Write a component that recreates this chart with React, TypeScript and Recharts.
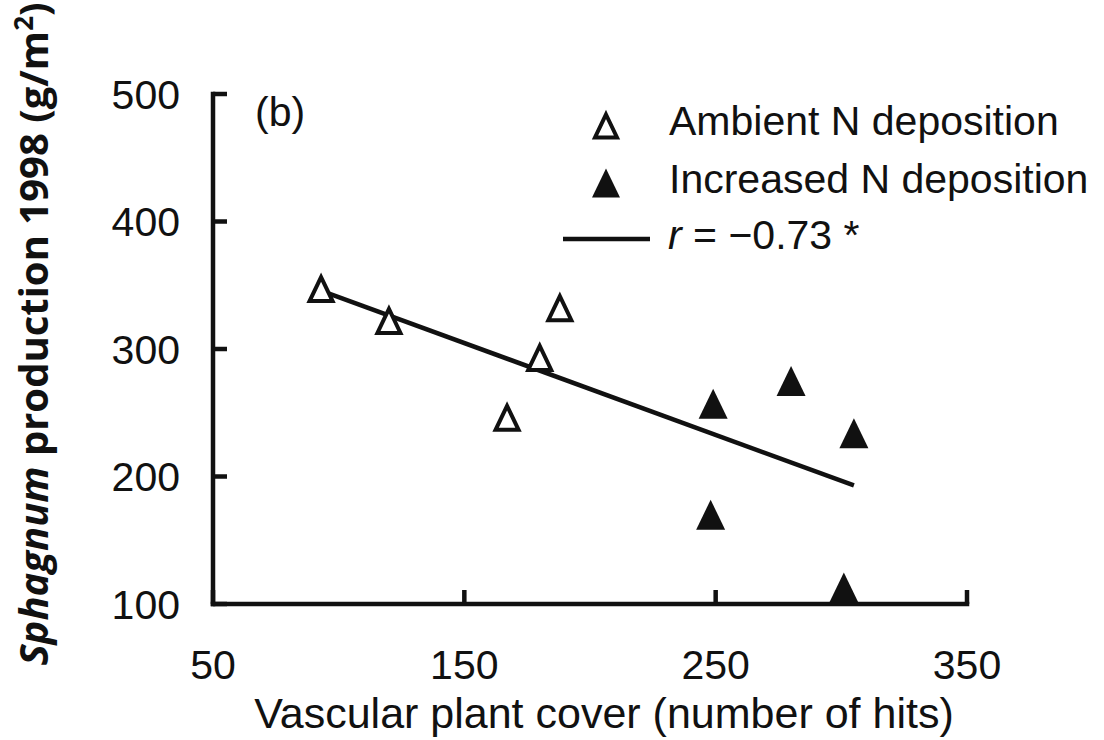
import { ScatterChart, Scatter, XAxis, YAxis, Customized } from 'recharts';

// Vascular plant cover (number of hits) vs Sphagnum production 1998 (g/m2)
const ambientCover = [93, 120, 188, 180, 167];
const ambientProd = [347, 322, 332, 293, 246];
const increasedCover = [249, 280, 305, 248, 301];
const increasedProd = [257, 275, 234, 170, 113];
const fitCover = [94, 305];
const fitProd = [345, 193];

const xTicks = [50, 150, 250, 350];
const yTicks = [100, 200, 300, 400, 500];
const seriesNames = ['Ambient N deposition', 'Increased N deposition'];
const rText = ' = −0.73 *';
const panelTag = '(b)';

const ambientData = ambientCover.map((x, i) => ({ x, y: ambientProd[i] }));
const increasedData = increasedCover.map((x, i) => ({ x, y: increasedProd[i] }));
const fitData = fitCover.map((x, i) => ({ x, y: fitProd[i] }));

const INK = '#111';
const FONT = '"Liberation Sans", Arial, sans-serif';
const STROKE = 4.5;

function tri(cx: number, cy: number, hw: number, hh: number) {
  return `M${cx},${cy - hh} L${cx + hw},${cy + hh} L${cx - hw},${cy + hh} Z`;
}

// eslint-disable-next-line @typescript-eslint/no-explicit-any
function OpenTriangle({ cx, cy }: any) {
  return <path d={tri(cx, cy, 11.5, 12)} fill="#fff" stroke={INK} strokeWidth={4} />;
}

// eslint-disable-next-line @typescript-eslint/no-explicit-any
function FilledTriangle({ cx, cy }: any) {
  return <path d={tri(cx, cy, 14.5, 15)} fill={INK} stroke="none" />;
}

function NoDot() {
  return <g />;
}

// eslint-disable-next-line @typescript-eslint/no-explicit-any
function YTitle({ viewBox }: any) {
  const x = viewBox.x - 65;
  const y = viewBox.y + viewBox.height / 2 - 15;
  return (
    <text
      x={x}
      y={y}
      transform={`rotate(-90, ${x}, ${y})`}
      textAnchor="middle"
      fontFamily='"Open Sans", sans-serif'
      fontWeight={700}
      fontSize={40}
      fill={INK}
    >
      <tspan fontStyle="italic">Sphagnum</tspan>
      <tspan> production 1998 (g/m</tspan>
      <tspan dy={-15} fontSize={26}>2</tspan>
      <tspan dy={15}>)</tspan>
    </text>
  );
}

// eslint-disable-next-line @typescript-eslint/no-explicit-any
function XTitle({ viewBox }: any) {
  const x = viewBox.x + viewBox.width / 2 + 14;
  const y = viewBox.y + 124;
  return (
    <text x={x} y={y} textAnchor="middle" fontFamily={FONT} fontSize={43} fill={INK}>
      Vascular plant cover (number of hits)
    </text>
  );
}

function Annotations() {
  return (
    <g fontFamily={FONT} fontSize={41} fill={INK}>
      <text x={255} y={126}>{panelTag}</text>
      <path d={tri(606, 126, 11, 11.5)} fill="#fff" stroke={INK} strokeWidth={4} />
      <text x={669} y={135}>{seriesNames[0]}</text>
      <path d={tri(606, 183, 14, 14.5)} fill={INK} />
      <text x={669} y={193}>{seriesNames[1]}</text>
      <line x1={563} x2={650} y1={239} y2={239} stroke={INK} strokeWidth={STROKE} />
      <text x={668} y={249}>
        <tspan fontStyle="italic">r</tspan>
        <tspan>{rText}</tspan>
      </text>
    </g>
  );
}

export default function App() {
  return (
    <div style={{ width: 1104, height: 740, background: '#fff' }}>
      <style>{'body{margin:0;background:#fff}'}</style>
      <ScatterChart width={1104} height={740} margin={{ top: 94, right: 137, left: 113, bottom: 6 }}>
        <XAxis
          type="number"
          dataKey="x"
          domain={[50, 350]}
          ticks={xTicks}
          height={130}
          tickSize={-14}
          tickMargin={60}
          axisLine={{ stroke: INK, strokeWidth: STROKE, strokeLinecap: 'square' }}
          tickLine={{ stroke: INK, strokeWidth: STROKE }}
          tick={{ fill: INK, fontSize: 41, fontFamily: FONT }}
          label={{ content: <XTitle /> }}
        />
        <YAxis
          type="number"
          dataKey="y"
          domain={[100, 500]}
          ticks={yTicks}
          width={100}
          tickSize={-14}
          tickMargin={47}
          axisLine={{ stroke: INK, strokeWidth: STROKE, strokeLinecap: 'square' }}
          tickLine={{ stroke: INK, strokeWidth: STROKE }}
          tick={{ fill: INK, fontSize: 41, fontFamily: FONT }}
          label={{ content: <YTitle /> }}
        />
        <Scatter
          name="fit"
          data={fitData}
          line={{ stroke: INK, strokeWidth: STROKE }}
          shape={<NoDot />}
          isAnimationActive={false}
        />
        <Scatter name={seriesNames[0]} data={ambientData} shape={<OpenTriangle />} isAnimationActive={false} />
        <Scatter name={seriesNames[1]} data={increasedData} shape={<FilledTriangle />} isAnimationActive={false} />
        <Customized component={<Annotations />} />
      </ScatterChart>
    </div>
  );
}
